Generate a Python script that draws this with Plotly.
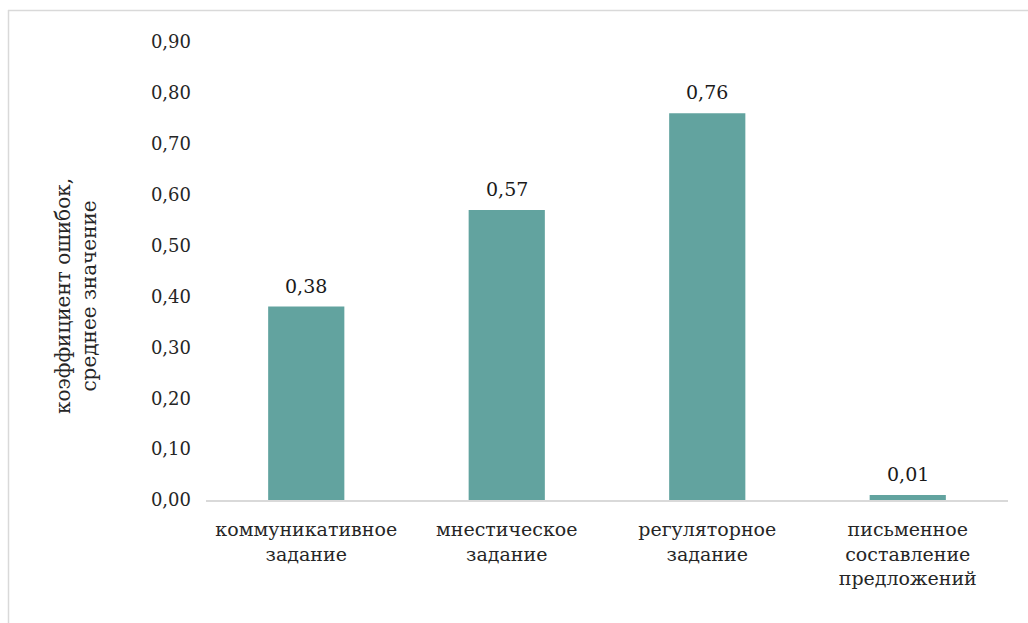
import plotly.graph_objects as go

categories = [
    "коммуникативное<br>задание",
    "мнестическое<br>задание",
    "регуляторное<br>задание",
    "письменное<br>составление<br>предложений",
]
values = [0.38, 0.57, 0.76, 0.01]
value_labels = ["0,38", "0,57", "0,76", "0,01"]
y_ticks = [0.0, 0.1, 0.2, 0.3, 0.4, 0.5, 0.6, 0.7, 0.8, 0.9]
y_title = "коэффициент ошибок,<br>среднее значение"

FONT = "DejaVu Serif"
TEXT = "#262626"
W, H = 1028, 623
ML, MR, MT, MB = 206, 20, 42, 123
PW, PH = W - ML - MR, H - MT - MB


def px_x(p):
    return (p - ML) / PW


def px_y(p):
    return (H - MB - p) / PH


fig = go.Figure(
    go.Bar(
        x=categories,
        y=values,
        marker=dict(color="#62a39f", line=dict(width=0)),
        width=0.38,
    )
)

# value labels above each bar
for cat, val, lab in zip(categories, values, value_labels):
    fig.add_annotation(
        x=cat, y=val, text=lab, showarrow=False,
        xanchor="center", yanchor="bottom", yshift=8,
        font=dict(family=FONT, size=19, color="#1a1a1a"),
    )

# rotated two-line axis title
fig.add_annotation(
    x=px_x(76), y=px_y(296), xref="paper", yref="paper",
    text=y_title, showarrow=False, textangle=-90,
    xanchor="center", yanchor="middle",
    font=dict(family=FONT, size=20, color=TEXT),
)

fig.update_layout(
    width=W,
    height=H,
    margin=dict(l=ML, r=MR, t=MT, b=MB),
    paper_bgcolor="white",
    plot_bgcolor="white",
    separators=", ",
    showlegend=False,
    font=dict(family=FONT, color=TEXT),
    xaxis=dict(
        showline=True,
        linecolor="#d9d9d9",
        linewidth=2,
        ticks="",
        tickfont=dict(family=FONT, size=19, color=TEXT),
        ticklabelstandoff=11,
        showgrid=False,
    ),
    yaxis=dict(
        range=[0, 0.9],
        tickvals=y_ticks,
        tickformat=".2f",
        showgrid=False,
        zeroline=False,
        showline=False,
        tickfont=dict(family=FONT, size=18, color=TEXT),
        ticklabelstandoff=14,
    ),
    shapes=[
        dict(
            type="line", xref="paper", yref="paper",
            x0=px_x(8.5), x1=px_x(8.5), y0=px_y(10), y1=px_y(H + 5),
            line=dict(color="#d9d9d9", width=1.5),
        ),
        dict(
            type="line", xref="paper", yref="paper",
            x0=px_x(8), x1=px_x(W + 5), y0=px_y(10.5), y1=px_y(10.5),
            line=dict(color="#d9d9d9", width=1.5),
        ),
    ],
)

fig.write_html("out.html")
